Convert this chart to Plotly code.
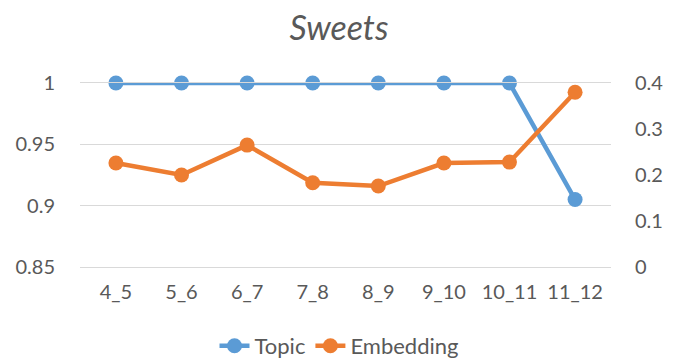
import plotly.graph_objects as go

# Window pairs on the x axis
categories = ["4_5", "5_6", "6_7", "7_8", "8_9", "9_10", "10_11", "11_12"]

# Topic similarity (left axis) and embedding similarity (right axis)
topic = [1.0, 1.0, 1.0, 1.0, 1.0, 1.0, 1.0, 0.905]
embedding = [0.226, 0.200, 0.265, 0.183, 0.176, 0.226, 0.228, 0.380]

left_ticks = [0.85, 0.9, 0.95, 1.0]
left_labels = ["0.85", "0.9", "0.95", "1"]
right_ticks = [0, 0.1, 0.2, 0.3, 0.4]
right_labels = ["0", "0.1", "0.2", "0.3", "0.4"]

BLUE = "#5B9BD5"
ORANGE = "#ED7D31"
TEXT = "#595959"
GRID = "#D9D9D9"
FONT = "Lato, 'Open Sans', sans-serif"

fig = go.Figure()
fig.add_trace(go.Scatter(
    x=categories, y=topic, name="Topic", mode="lines+markers",
    line=dict(color=BLUE, width=4.5), marker=dict(color=BLUE, size=15),
    cliponaxis=False, yaxis="y",
))
fig.add_trace(go.Scatter(
    x=categories, y=embedding, name="Embedding", mode="lines+markers",
    line=dict(color=ORANGE, width=4.5), marker=dict(color=ORANGE, size=15),
    cliponaxis=False, yaxis="y2",
))

fig.update_layout(
    width=678, height=363,
    margin=dict(l=80, r=67, t=83, b=96),
    paper_bgcolor="white", plot_bgcolor="white",
    font=dict(family=FONT, color=TEXT, size=20),
    title=dict(
        text="<i>Sweets</i>", x=0.5, xanchor="center",
        y=1 - 28 / 363, yanchor="middle", yref="container",
        font=dict(size=34, color=TEXT, family=FONT),
    ),
    xaxis=dict(
        type="category", showgrid=False, zeroline=False,
        # top and bottom frame lines double as the 1 / 0.85 gridlines
        showline=True, mirror=True, linecolor=GRID, linewidth=1,
        ticks="outside", ticklen=7, tickcolor="rgba(0,0,0,0)",
        tickfont=dict(size=20, color=TEXT),
    ),
    yaxis=dict(
        range=[0.85, 1.0], tickvals=left_ticks, ticktext=left_labels,
        showgrid=True, gridcolor=GRID, gridwidth=1, zeroline=False,
        showline=False, ticks="outside", ticklen=20,
        tickcolor="rgba(0,0,0,0)", tickfont=dict(size=20, color=TEXT),
    ),
    yaxis2=dict(
        range=[0, 0.4], tickvals=right_ticks, ticktext=right_labels,
        overlaying="y", side="right", showgrid=False, zeroline=False,
        showline=False, ticks="outside", ticklen=19,
        tickcolor="rgba(0,0,0,0)", tickfont=dict(size=20, color=TEXT),
    ),
    legend=dict(
        orientation="h", x=0.5, xanchor="center", xref="container",
        y=0.105, yanchor="top", yref="container",
        font=dict(size=22, color=TEXT), bgcolor="rgba(0,0,0,0)",
    ),
    showlegend=True,
)

fig.write_html("out.html")
